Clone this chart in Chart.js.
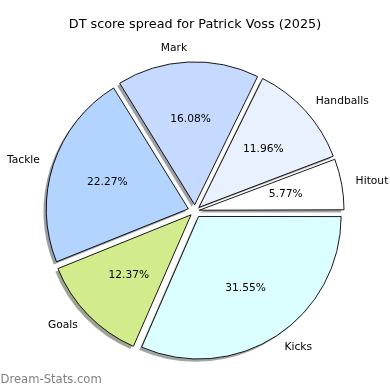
<!DOCTYPE html>
<html>
<head>
<meta charset="utf-8">
<script src="https://cdn.jsdelivr.net/npm/chart.js@4.4.0/dist/chart.umd.min.js"></script>
<style>
  html, body { margin: 0; padding: 0; background: #fff; }
  #wrap { width: 390px; height: 390px; position: relative; }
</style>
</head>
<body>
<div id="wrap"><canvas id="pieChart" width="390" height="390"></canvas></div>
<script>
// categories in the original (counter-clockwise) order, starting at 3 o'clock
const categories = ["Hitout", "Handballs", "Mark", "Tackle", "Goals", "Kicks"];
const shares = [5.77, 11.96, 16.08, 22.27, 12.37, 31.55];
const sliceColors = ["#ffffff", "#e9f1ff", "#c6d9ff", "#b3d4ff", "#d1eb8d", "#dbffff"];

const chartTitle = "DT score spread for Patrick Voss (2025)";
const watermark = "Dream-Stats.com";

// Chart.js goes clockwise, so feed it the reversed lists
const labelsCw = categories.slice().reverse();
const valuesCw = shares.slice().reverse();
const colorsCw = sliceColors.slice().reverse();

const EXPLODE = 7.1;   // px the slice moves out
const total = valuesCw.reduce((a, b) => a + b, 0);

// Chart.js moves an arc by offset/4 * (2 - sin(circ)), so work back from the wanted shift
function arcOffset(ctx) {
  const c = Math.min(Math.PI, valuesCw[ctx.dataIndex] / total * 2 * Math.PI);
  return 4 * EXPLODE / (2 - Math.sin(c));
}

function arcShift(el) {
  const c = el.endAngle - el.startAngle;
  const off = (el.options.offset || 0) / 4;
  const fix = 1 - Math.sin(Math.min(Math.PI, c));
  return off * (1 + fix);
}

function shade(hex) {
  const n = parseInt(hex.slice(1), 16);
  const r = Math.round(((n >> 16) & 255) * 0.3);
  const g = Math.round(((n >> 8) & 255) * 0.3);
  const b = Math.round((n & 255) * 0.3);
  return "rgba(" + r + "," + g + "," + b + ",0.5)";
}

// grey drop shadow under every wedge
const shadowPlugin = {
  id: "shadows",
  beforeDatasetsDraw(chart) {
    const ctx = chart.ctx;
    const meta = chart.getDatasetMeta(0);
    meta.data.forEach((el, i) => {
      const mid = (el.startAngle + el.endAngle) / 2;
      const s = arcShift(el);
      const cx = el.x + Math.cos(mid) * s - 2.8;
      const cy = el.y + Math.sin(mid) * s + 2.8;
      ctx.save();
      ctx.beginPath();
      ctx.moveTo(cx, cy);
      ctx.arc(cx, cy, el.outerRadius, el.startAngle, el.endAngle);
      ctx.closePath();
      ctx.fillStyle = shade(colorsCw[i]);
      ctx.fill();
      ctx.restore();
    });
  }
};

// outside names, inside percentages, title and watermark
const textPlugin = {
  id: "texts",
  afterDatasetsDraw(chart) {
    const ctx = chart.ctx;
    const meta = chart.getDatasetMeta(0);
    ctx.save();
    ctx.fillStyle = "#000";
    ctx.textBaseline = "middle";
    meta.data.forEach((el, i) => {
      const mid = (el.startAngle + el.endAngle) / 2;
      const s = arcShift(el);
      const dx = Math.cos(mid), dy = Math.sin(mid);
      const cx = el.x + dx * s, cy = el.y + dy * s;
      const r = el.outerRadius;

      ctx.font = "10.7px 'DejaVu Sans'";
      ctx.textAlign = dx > 0 ? "left" : "right";
      ctx.fillText(labelsCw[i], cx + dx * r * 1.1, cy + dy * r * 1.1);

      ctx.textAlign = "center";
      const pct = (valuesCw[i] / total * 100).toFixed(2) + "%";
      ctx.fillText(pct, cx + dx * r * 0.6, cy + dy * r * 0.6);
    });

    ctx.font = "12.8px 'DejaVu Sans'";
    ctx.textAlign = "center";
    ctx.fillText(chartTitle, 195, 25);

    ctx.font = "11.6px 'DejaVu Sans'";
    ctx.fillStyle = "#808080";
    ctx.textAlign = "left";
    ctx.fillText(watermark, 0.5, 380);
    ctx.restore();
  }
};

new Chart(document.getElementById("pieChart"), {
  type: "pie",
  data: {
    labels: labelsCw,
    datasets: [{
      data: valuesCw,
      backgroundColor: colorsCw,
      borderColor: "#000",
      borderWidth: 0.9,
      offset: arcOffset,
      hoverOffset: 0
    }]
  },
  options: {
    responsive: false,
    animation: false,
    events: [],
    rotation: 90,
    radius: 142,
    layout: { padding: { top: 40, bottom: 8, left: 0, right: 0 } },
    plugins: {
      legend: { display: false },
      title: { display: false },
      tooltip: { enabled: false }
    }
  },
  plugins: [shadowPlugin, textPlugin]
});
</script>
</body>
</html>
